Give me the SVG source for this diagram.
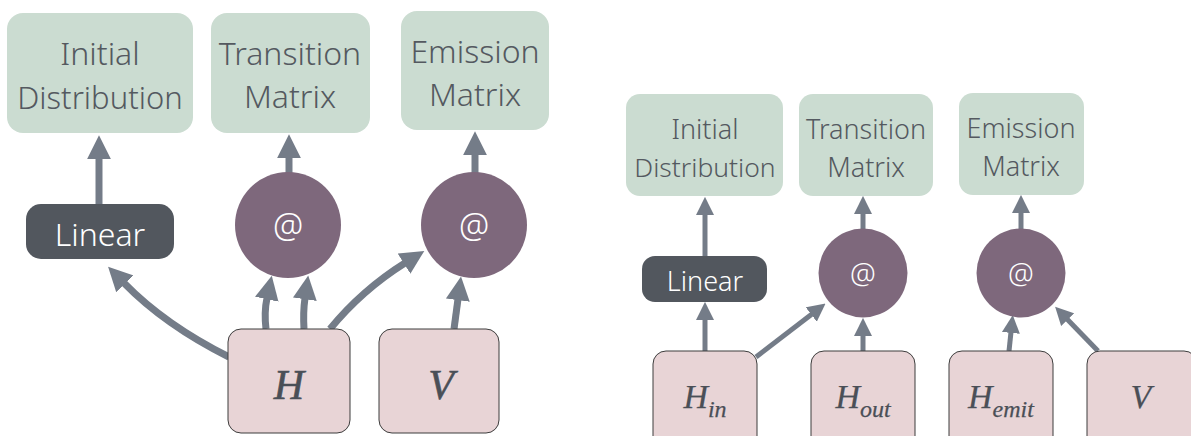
<svg xmlns="http://www.w3.org/2000/svg" width="1191" height="436" viewBox="0 0 1191 436">
<style>
.out{fill:#cbdcd1}
.lbl{font-family:"Noto Sans","Liberation Sans",sans-serif;font-weight:300;fill:#545960;text-anchor:middle}
.lin{fill:#52575e}
.lint{font-family:"Noto Sans","Liberation Sans",sans-serif;font-weight:300;fill:#ffffff;text-anchor:middle}
.op{fill:#7e687c}
.inp{fill:#e8d4d6;stroke:#3d3d3d;stroke-width:1}
.var{font-family:"Liberation Serif","Times New Roman",serif;font-style:italic;fill:#4a4f57;stroke:#4a4f57;stroke-width:0.6;text-anchor:middle}
.varR{stroke-width:0.25}
.e1{fill:none;stroke:#747c88;stroke-width:7}
.e2{fill:none;stroke:#747c88;stroke-width:5}
</style>
<defs>
<marker id="ahL" viewBox="0 0 10 10" refX="0.5" refY="5" markerWidth="24" markerHeight="25" markerUnits="userSpaceOnUse" orient="auto"><path d="M0,0 L10,5 L0,10 z" fill="#747c88"/></marker>
<marker id="ahR" viewBox="0 0 10 10" refX="0.5" refY="5" markerWidth="18" markerHeight="19" markerUnits="userSpaceOnUse" orient="auto"><path d="M0,0 L10,5 L0,10 z" fill="#747c88"/></marker>
</defs>

<g id="connectors">
<path class="e1" d="M99 205 L99 158" marker-end="url(#ahL)"/>
<path class="e1" d="M289 173 L289 157" marker-end="url(#ahL)"/>
<path class="e1" d="M475 173 L475 154" marker-end="url(#ahL)"/>
<path class="e1" d="M229 357 Q165 325 124 283" marker-end="url(#ahL)"/>
<path class="e1" d="M266 329 Q264 312 267 298" marker-end="url(#ahL)"/>
<path class="e1" d="M304 329 Q303 312 305 298" marker-end="url(#ahL)"/>
<path class="e1" d="M330 329 Q362 290 405 263" marker-end="url(#ahL)"/>
<path class="e1" d="M454 329 L458 299" marker-end="url(#ahL)"/>

<path class="e2" d="M705 256 L705 214" marker-end="url(#ahR)"/>
<path class="e2" d="M705 351 L705 319" marker-end="url(#ahR)"/>
<path class="e2" d="M756 357 L812 314" marker-end="url(#ahR)"/>
<path class="e2" d="M863 351 L863 335" marker-end="url(#ahR)"/>
<path class="e2" d="M863 229 L863 213" marker-end="url(#ahR)"/>
<path class="e2" d="M1009 351 L1011 332" marker-end="url(#ahR)"/>
<path class="e2" d="M1098 351 L1067 319" marker-end="url(#ahR)"/>
<path class="e2" d="M1021 229 L1021 212" marker-end="url(#ahR)"/>
</g>

<g id="init-dist-L"><rect class="out" x="7" y="13" width="186" height="120" rx="16"/>
<text class="lbl" x="100" y="65" font-size="32">Initial</text><text class="lbl" x="100" y="109" font-size="31">Distribution</text></g>
<g id="trans-mat-L"><rect class="out" x="211" y="13" width="159" height="120" rx="16"/>
<text class="lbl" x="290" y="65" font-size="32">Transition</text><text class="lbl" x="290" y="108" font-size="32">Matrix</text></g>
<g id="emis-mat-L"><rect class="out" x="401" y="11" width="148" height="119" rx="16"/>
<text class="lbl" x="475" y="63" font-size="32">Emission</text><text class="lbl" x="475" y="106" font-size="32">Matrix</text></g>
<g id="linear-L"><rect class="lin" x="26" y="204" width="148" height="55" rx="15"/>
<text class="lint" x="100" y="246" font-size="32">Linear</text></g>
<g id="matmul1-L"><circle class="op" cx="288" cy="225" r="53"/>
<text class="lint" x="288" y="238" font-size="34">@</text></g>
<g id="matmul2-L"><circle class="op" cx="474" cy="225" r="53"/>
<text class="lint" x="474" y="238" font-size="34">@</text></g>
<g id="H-L"><rect class="inp" x="228" y="329" width="122" height="104" rx="13"/>
<text class="var" x="289" y="399" font-size="42">H</text></g>
<g id="V-L"><rect class="inp" x="379" y="329" width="120" height="104" rx="13"/>
<text class="var" x="441" y="399" font-size="42">V</text></g>

<g id="init-dist-R"><rect class="out" x="626" y="94" width="157" height="102" rx="14"/>
<text class="lbl" x="705" y="139" font-size="27">Initial</text><text class="lbl" x="705" y="177" font-size="26.5">Distribution</text></g>
<g id="trans-mat-R"><rect class="out" x="799" y="94" width="134" height="102" rx="14"/>
<text class="lbl" x="866" y="139" font-size="27">Transition</text><text class="lbl" x="866" y="177" font-size="27">Matrix</text></g>
<g id="emis-mat-R"><rect class="out" x="959" y="93" width="125" height="102" rx="14"/>
<text class="lbl" x="1021" y="138" font-size="27">Emission</text><text class="lbl" x="1021" y="176" font-size="27">Matrix</text></g>
<g id="linear-R"><rect class="lin" x="642" y="256" width="125" height="46" rx="13"/>
<text class="lint" x="705" y="291" font-size="27">Linear</text></g>
<g id="matmul1-R"><circle class="op" cx="863" cy="273" r="44.5"/>
<text class="lint" x="863" y="284" font-size="29">@</text></g>
<g id="matmul2-R"><circle class="op" cx="1021" cy="273" r="44.5"/>
<text class="lint" x="1021" y="284" font-size="29">@</text></g>
<g id="Hin-R"><rect class="inp" x="653" y="351" width="104" height="100" rx="13"/>
<text class="var varR" x="705" y="408" font-size="34">H<tspan font-size="24" dy="9">in</tspan></text></g>
<g id="Hout-R"><rect class="inp" x="811" y="351" width="104" height="100" rx="13"/>
<text class="var varR" x="863" y="408" font-size="34">H<tspan font-size="24" dy="9">out</tspan></text></g>
<g id="Hemit-R"><rect class="inp" x="949" y="351" width="104" height="100" rx="13"/>
<text class="var varR" x="1001" y="408" font-size="34">H<tspan font-size="24" dy="9">emit</tspan></text></g>
<g id="V-R"><rect class="inp" x="1087" y="351" width="110" height="100" rx="13"/>
<text class="var varR" x="1141" y="408" font-size="34">V</text></g>
</svg>
